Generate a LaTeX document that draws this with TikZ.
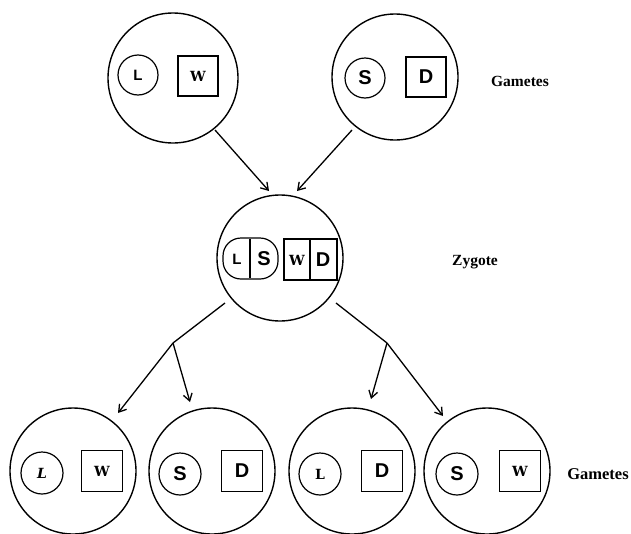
\documentclass[tikz,border=0pt]{standalone}
\usepackage{fontspec}
\setmainfont{Liberation Serif}
\newfontfamily\genesans{Liberation Sans}
\newfontfamily\geneserif{DejaVu Serif}
\usetikzlibrary{arrows.meta}
\begin{document}
\begin{tikzpicture}[x=1pt,y=-1pt,
  cell/.style={circle,draw,line width=1.4pt,minimum size=126pt,inner sep=0pt},
  rgene/.style={circle,draw,line width=1.2pt,minimum size=40pt,inner sep=0pt},
  sgene/.style={rectangle,draw,line width=1.2pt,minimum size=40pt,inner sep=0pt},
  serifletter/.style={font=\fontsize{14}{14}\selectfont\geneserif\bfseries},
  sansletter/.style={font=\fontsize{20}{20}\selectfont\genesans\bfseries},
  smallsans/.style={font=\fontsize{15}{15}\selectfont\genesans\bfseries},
  caption/.style={font=\fontsize{15.5}{16}\selectfont\bfseries},
  arrow/.style={line width=1.3pt,-{Straight Barb[length=7pt,width=9pt]}},
  link/.style={line width=1.3pt}]
\useasboundingbox (0,0) rectangle (631,533);

% parent gametes
\node[cell,minimum size=130pt] (g1) at (173,78) {};
\node[rgene,smallsans] (g1a) at (138,75) {L};
\node[sgene,serifletter] (g1b) at (198,76) {W};

\node[cell] (g2) at (395,77) {};
\node[rgene,sansletter] (g2a) at (365,78) {S};
\node[sgene,sansletter] (g2b) at (426,77) {D};

\node[caption] (capg1) at (520,81) {Gametes};

% zygote
\node[cell] (z) at (280,258) {};
\draw[line width=1.2pt,rounded corners=18pt] (223,238) rectangle (278,279);
\draw[line width=1.2pt] (250,239) -- (250,278);
\draw[line width=1.2pt] (284,239) rectangle (337,280);
\draw[line width=1.2pt] (310,239) -- (310,280);
\node[smallsans] (za) at (237,259) {L};
\node[sansletter] (zb) at (264,259) {S};
\node[serifletter] (zc) at (297,260) {W};
\node[sansletter] (zd) at (323,260) {D};

\node[caption] (capz) at (475,262) {Zygote};

% offspring gametes
\node[cell] (o1) at (73,471) {};
\node[rgene,serifletter,minimum size=42pt] (o1a) at (42,473) {\itshape L};
\node[sgene,serifletter,minimum size=41pt] (o1b) at (102,471) {W};

\node[cell] (o2) at (212,471) {};
\node[rgene,sansletter,minimum size=42pt] (o2a) at (180,474) {S};
\node[sgene,sansletter,minimum size=41pt] (o2b) at (242,471) {D};

\node[cell] (o3) at (352,471) {};
\node[rgene,serifletter,minimum size=42pt] (o3a) at (320,474) {L};
\node[sgene,sansletter,minimum size=41pt] (o3b) at (382,471) {D};

\node[cell] (o4) at (487,471) {};
\node[rgene,sansletter,minimum size=42pt] (o4a) at (457,474) {S};
\node[sgene,serifletter,minimum size=41pt] (o4b) at (520,471) {W};

\node[caption,font=\fontsize{16.5}{17}\selectfont\bfseries] (capo) at (598,474) {Gametes};

% fertilisation arrows
\coordinate (t1) at (215,130);
\coordinate (t2) at (352,130);
\coordinate (e1) at (269,191);
\coordinate (e2) at (297,191);
\draw[arrow] (t1) -- (e1);
\draw[arrow] (t2) -- (e2);

% segregation arrows
\coordinate (s1) at (225,303);
\coordinate (j1) at (173,343);
\coordinate (a1) at (118,413);
\coordinate (a2) at (190,402);
\coordinate (s2) at (336,303);
\coordinate (j2) at (387,343);
\coordinate (a3) at (371,399);
\coordinate (a4) at (443,416);
\draw[link] (s1) -- (j1);
\draw[arrow] (j1) -- (a1);
\draw[arrow] (j1) -- (a2);
\draw[link] (s2) -- (j2);
\draw[arrow] (j2) -- (a3);
\draw[arrow] (j2) -- (a4);
\end{tikzpicture}
\end{document}
